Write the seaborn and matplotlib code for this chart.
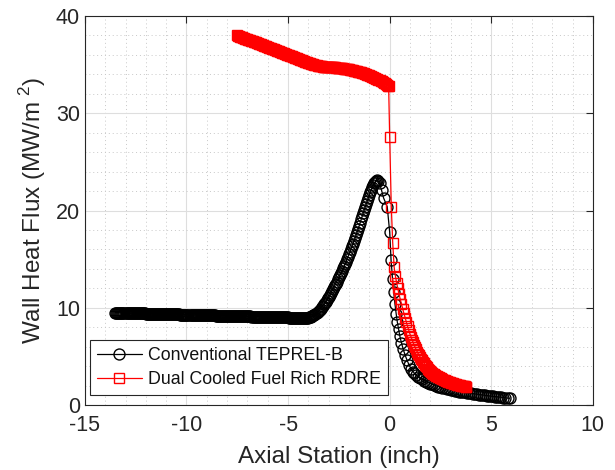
import matplotlib
matplotlib.use("Agg")
import matplotlib.pyplot as plt
import seaborn as sns
import pandas as pd
from matplotlib.ticker import MultipleLocator

# ---- data ----
conv_x = [
    -13.5, -13.45, -13.4, -13.35, -13.3, -13.25, -13.2, -13.15, -13.1, -13.05,
    -13.0, -12.95, -12.9, -12.85, -12.8, -12.75, -12.7, -12.65, -12.6, -12.55,
    -12.5, -12.45, -12.4, -12.35, -12.3, -12.25, -12.2, -12.15, -12.1, -12.05,
    -12.0, -11.95, -11.9, -11.85, -11.8, -11.75, -11.7, -11.65, -11.6, -11.55,
    -11.5, -11.45, -11.4, -11.35, -11.3, -11.25, -11.2, -11.15, -11.1, -11.05,
    -11.0, -10.95, -10.9, -10.85, -10.8, -10.75, -10.7, -10.65, -10.6, -10.55,
    -10.5, -10.45, -10.4, -10.35, -10.3, -10.25, -10.2, -10.15, -10.1, -10.05,
    -10.0, -9.95, -9.9, -9.85, -9.8, -9.75, -9.7, -9.65, -9.6, -9.55,
    -9.5, -9.45, -9.4, -9.35, -9.3, -9.25, -9.2, -9.15, -9.1, -9.05,
    -9.0, -8.95, -8.9, -8.85, -8.8, -8.75, -8.7, -8.65, -8.6, -8.55,
    -8.5, -8.45, -8.4, -8.35, -8.3, -8.25, -8.2, -8.15, -8.1, -8.05,
    -8.0, -7.95, -7.9, -7.85, -7.8, -7.75, -7.7, -7.65, -7.6, -7.55,
    -7.5, -7.45, -7.4, -7.35, -7.3, -7.25, -7.2, -7.15, -7.1, -7.05,
    -7.0, -6.95, -6.9, -6.85, -6.8, -6.75, -6.7, -6.65, -6.6, -6.55,
    -6.5, -6.45, -6.4, -6.35, -6.3, -6.25, -6.2, -6.15, -6.1, -6.05,
    -6.0, -5.95, -5.9, -5.85, -5.8, -5.75, -5.7, -5.65, -5.6, -5.55,
    -5.5, -5.45, -5.4, -5.35, -5.3, -5.25, -5.2, -5.15, -5.1, -5.05,
    -5.0, -4.95, -4.9, -4.85, -4.8, -4.75, -4.7, -4.65, -4.6, -4.55,
    -4.5, -4.45, -4.4, -4.35, -4.3, -4.25, -4.2, -4.15, -4.1, -4.05,
    -4.0, -3.95, -3.9, -3.85, -3.8, -3.75, -3.7, -3.65, -3.6, -3.55,
    -3.5, -3.45, -3.4, -3.35, -3.3, -3.25, -3.2, -3.15, -3.1, -3.05,
    -3.0, -2.95, -2.9, -2.85, -2.8, -2.75, -2.7, -2.65, -2.6, -2.55,
    -2.5, -2.45, -2.4, -2.35, -2.3, -2.25, -2.2, -2.15, -2.1, -2.05,
    -2.0, -1.95, -1.9, -1.85, -1.8, -1.75, -1.7, -1.65, -1.6, -1.55,
    -1.5, -1.45, -1.4, -1.35, -1.3, -1.25, -1.2, -1.15, -1.1, -1.05,
    -1.0, -0.95, -0.9, -0.85, -0.8, -0.75, -0.7, -0.65, -0.6, -0.55,
    -0.5, -0.4, -0.3, -0.12, 0.0, 0.07, 0.14, 0.2, 0.26, 0.32, 0.38,
    0.44, 0.5, 0.58, 0.66, 0.75, 0.85, 0.95, 1.05, 1.15, 1.22,
    1.3, 1.4, 1.5, 1.6, 1.7, 1.8, 1.9, 2.0, 2.1, 2.2,
    2.3, 2.4, 2.5, 2.6, 2.7, 2.8, 2.9, 3.0, 3.1, 3.2,
    3.3, 3.4, 3.5, 3.6, 3.7, 3.8, 3.9, 4.0, 4.1, 4.2,
    4.3, 4.4, 4.5, 4.6, 4.7, 4.8, 4.9, 5.0, 5.1, 5.2,
    5.3, 5.4, 5.5, 5.6, 5.7, 5.8, 5.9,
]
conv_y = [
    9.50, 9.50, 9.49, 9.49, 9.49, 9.49, 9.48, 9.48, 9.48, 9.47,
    9.47, 9.47, 9.47, 9.46, 9.46, 9.46, 9.45, 9.45, 9.45, 9.45,
    9.44, 9.44, 9.44, 9.43, 9.43, 9.43, 9.43, 9.42, 9.42, 9.42,
    9.41, 9.41, 9.41, 9.41, 9.40, 9.40, 9.40, 9.39, 9.39, 9.39,
    9.38, 9.38, 9.38, 9.38, 9.37, 9.37, 9.37, 9.36, 9.36, 9.36,
    9.36, 9.35, 9.35, 9.35, 9.34, 9.34, 9.34, 9.34, 9.33, 9.33,
    9.33, 9.32, 9.32, 9.32, 9.31, 9.31, 9.31, 9.31, 9.30, 9.30,
    9.30, 9.29, 9.29, 9.29, 9.29, 9.28, 9.28, 9.28, 9.27, 9.27,
    9.27, 9.27, 9.26, 9.26, 9.26, 9.25, 9.25, 9.25, 9.25, 9.24,
    9.24, 9.24, 9.23, 9.23, 9.23, 9.23, 9.22, 9.22, 9.22, 9.21,
    9.21, 9.21, 9.21, 9.20, 9.20, 9.20, 9.19, 9.19, 9.19, 9.19,
    9.18, 9.18, 9.18, 9.17, 9.17, 9.17, 9.17, 9.16, 9.16, 9.16,
    9.15, 9.15, 9.15, 9.14, 9.14, 9.14, 9.14, 9.13, 9.13, 9.13,
    9.12, 9.12, 9.12, 9.12, 9.11, 9.11, 9.11, 9.10, 9.10, 9.10,
    9.09, 9.09, 9.09, 9.09, 9.08, 9.08, 9.08, 9.07, 9.07, 9.07,
    9.07, 9.06, 9.06, 9.06, 9.05, 9.05, 9.05, 9.05, 9.04, 9.04,
    9.04, 9.03, 9.03, 9.03, 9.02, 9.02, 9.02, 9.02, 9.01, 9.01,
    9.01, 9.00, 9.00, 9.00, 9.00, 8.99, 8.99, 8.99, 8.98, 8.98,
    8.98, 8.98, 8.97, 8.97, 8.97, 8.97, 8.96, 8.96, 8.97, 8.98,
    9.0, 9.02, 9.05, 9.1, 9.15, 9.22, 9.3, 9.37, 9.45, 9.55,
    9.65, 9.77, 9.9, 10.05, 10.2, 10.35, 10.5, 10.65, 10.8, 10.97,
    11.15, 11.32, 11.5, 11.7, 11.9, 12.1, 12.3, 12.5, 12.7, 12.92,
    13.15, 13.37, 13.6, 13.82, 14.05, 14.27, 14.5, 14.75, 15.0, 15.25,
    15.5, 15.77, 16.05, 16.32, 16.6, 16.9, 17.2, 17.5, 17.8, 18.12,
    18.45, 18.77, 19.1, 19.42, 19.75, 20.07, 20.4, 20.7, 21.0, 21.3,
    21.6, 21.88, 22.15, 22.4, 22.6, 22.8, 22.95, 23.05, 23.1, 23.0,
    22.8, 22.1, 21.3, 20.4, 17.8, 14.9, 13.0, 11.6, 10.4, 9.4, 8.5,
    7.8, 7.1, 6.4, 5.8, 5.2, 4.65, 4.15, 3.75, 3.45, 3.27,
    3.1, 2.93, 2.78, 2.65, 2.53, 2.42, 2.32, 2.22, 2.13, 2.05,
    1.98, 1.91, 1.84, 1.78, 1.72, 1.67, 1.62, 1.57, 1.52, 1.48,
    1.44, 1.40, 1.36, 1.33, 1.30, 1.27, 1.24, 1.21, 1.18, 1.15,
    1.12, 1.09, 1.06, 1.03, 1.00, 0.97, 0.94, 0.92, 0.90, 0.88,
    0.86, 0.84, 0.81, 0.78, 0.75, 0.72, 0.70,
]

rdre_x = [
    -7.5, -7.45, -7.4, -7.35, -7.3, -7.25, -7.2, -7.15, -7.1, -7.05,
    -7.0, -6.95, -6.9, -6.85, -6.8, -6.75, -6.7, -6.65, -6.6, -6.55,
    -6.5, -6.45, -6.4, -6.35, -6.3, -6.25, -6.2, -6.15, -6.1, -6.05,
    -6.0, -5.95, -5.9, -5.85, -5.8, -5.75, -5.7, -5.65, -5.6, -5.55,
    -5.5, -5.45, -5.4, -5.35, -5.3, -5.25, -5.2, -5.15, -5.1, -5.05,
    -5.0, -4.95, -4.9, -4.85, -4.8, -4.75, -4.7, -4.65, -4.6, -4.55,
    -4.5, -4.45, -4.4, -4.35, -4.3, -4.25, -4.2, -4.15, -4.1, -4.05,
    -4.0, -3.95, -3.9, -3.85, -3.8, -3.75, -3.7, -3.65, -3.6, -3.55,
    -3.5, -3.45, -3.4, -3.35, -3.3, -3.25, -3.2, -3.15, -3.1, -3.05,
    -3.0, -2.95, -2.9, -2.85, -2.8, -2.75, -2.7, -2.65, -2.6, -2.55,
    -2.5, -2.45, -2.4, -2.35, -2.3, -2.25, -2.2, -2.15, -2.1, -2.05,
    -2.0, -1.95, -1.9, -1.85, -1.8, -1.75, -1.7, -1.65, -1.6, -1.55,
    -1.5, -1.45, -1.4, -1.35, -1.3, -1.25, -1.2, -1.15, -1.1, -1.05,
    -1.0, -0.95, -0.9, -0.85, -0.8, -0.75, -0.7, -0.65, -0.6, -0.55,
    -0.5, -0.45, -0.4, -0.35, -0.3, -0.25, -0.2, -0.15, -0.1, -0.05,
    0.0, 0.08, 0.15, 0.22, 0.28, 0.34, 0.4, 0.46, 0.52, 0.58,
    0.64, 0.7, 0.76, 0.82, 0.88, 0.94,
    1.0, 1.05, 1.1, 1.15, 1.2, 1.25, 1.3, 1.35, 1.4, 1.45,
    1.5, 1.55, 1.6, 1.65, 1.7, 1.75, 1.8, 1.85, 1.9, 1.95,
    2.0, 2.05, 2.1, 2.15, 2.2, 2.25, 2.3, 2.35, 2.4, 2.45,
    2.5, 2.55, 2.6, 2.65, 2.7, 2.75, 2.8, 2.85, 2.9, 2.95,
    3.0, 3.05, 3.1, 3.15, 3.2, 3.25, 3.3, 3.35, 3.4, 3.45,
    3.5, 3.55, 3.6, 3.65, 3.7, 3.75, 3.78,
]
rdre_y = [
    38.00, 37.96, 37.92, 37.88, 37.84, 37.80, 37.76, 37.72, 37.68, 37.64,
    37.60, 37.56, 37.52, 37.48, 37.44, 37.40, 37.36, 37.32, 37.28, 37.24,
    37.20, 37.16, 37.12, 37.08, 37.04, 37.00, 36.96, 36.92, 36.88, 36.84,
    36.80, 36.76, 36.72, 36.68, 36.64, 36.60, 36.56, 36.52, 36.48, 36.44,
    36.40, 36.36, 36.32, 36.28, 36.24, 36.20, 36.16, 36.12, 36.08, 36.04,
    36.00, 35.96, 35.92, 35.88, 35.84, 35.80, 35.76, 35.72, 35.68, 35.64,
    35.60, 35.56, 35.52, 35.48, 35.44, 35.40, 35.36, 35.32, 35.28, 35.24,
    35.20, 35.16, 35.12, 35.08, 35.05, 35.02, 34.98, 34.95, 34.92, 34.90,
    34.87, 34.85, 34.83, 34.81, 34.80, 34.79, 34.78, 34.77, 34.76, 34.755,
    34.75, 34.745, 34.74, 34.735, 34.73, 34.72, 34.71, 34.70, 34.69, 34.68,
    34.67, 34.655, 34.64, 34.625, 34.61, 34.595, 34.58, 34.565, 34.55, 34.53,
    34.51, 34.49, 34.47, 34.445, 34.42, 34.395, 34.37, 34.345, 34.32, 34.29,
    34.26, 34.23, 34.20, 34.165, 34.13, 34.095, 34.06, 34.02, 33.98, 33.94,
    33.90, 33.855, 33.81, 33.765, 33.72, 33.67, 33.62, 33.565, 33.51, 33.455,
    33.40, 33.34, 33.28, 33.215, 33.15, 33.075, 33.00, 32.925, 32.85, 32.78,
    27.6, 20.4, 16.7, 14.2, 13.3, 12.6, 12.0, 11.4, 10.9, 10.4,
    9.9, 9.45, 9.0, 8.55, 8.1, 7.7,
    7.3, 7.02, 6.74, 6.47, 6.2, 5.95, 5.72, 5.5, 5.3, 5.12,
    4.95, 4.77, 4.6, 4.45, 4.3, 4.15, 4.0, 3.87, 3.75, 3.63,
    3.52, 3.42, 3.33, 3.25, 3.17, 3.1, 3.03, 2.97, 2.91, 2.85,
    2.8, 2.74, 2.68, 2.62, 2.57, 2.52, 2.47, 2.42, 2.38, 2.34,
    2.3, 2.26, 2.23, 2.2, 2.17, 2.14, 2.11, 2.08, 2.06, 2.03,
    2.01, 1.99, 1.97, 1.95, 1.93, 1.91, 1.9,
]

series_names = ["Conventional TEPREL-B", "Dual Cooled Fuel Rich RDRE"]
x_ticks = [-15, -10, -5, 0, 5, 10]
y_ticks = [0, 10, 20, 30, 40]

# ---- plot ----
sns.set_theme(style="white")
plt.rcParams["font.family"] = ["Liberation Sans", "DejaVu Sans"]
plt.rcParams["mathtext.fontset"] = "custom"
plt.rcParams["mathtext.rm"] = "Liberation Sans"
plt.rcParams["axes.unicode_minus"] = False

fig = plt.figure(figsize=(6.15, 4.7), dpi=100)
ax = fig.add_axes([0.138, 0.138, 0.826, 0.828])

df1 = pd.DataFrame({"x": conv_x, "y": conv_y})
df2 = pd.DataFrame({"x": rdre_x, "y": rdre_y})

sns.lineplot(data=df1, x="x", y="y", ax=ax, sort=False, estimator=None,
             color="black", linewidth=0.9, marker="o", markersize=7.9,
             markerfacecolor="none", markeredgecolor="black",
             markeredgewidth=1.0, label=series_names[0])
sns.lineplot(data=df2, x="x", y="y", ax=ax, sort=False, estimator=None,
             color="red", linewidth=0.9, marker="s", markersize=7.4,
             markerfacecolor="none", markeredgecolor="red",
             markeredgewidth=1.0, label=series_names[1])

ax.set_xlim(-15, 10)
ax.set_ylim(0, 40)
ax.set_xticks(x_ticks)
ax.set_yticks(y_ticks)
ax.xaxis.set_minor_locator(MultipleLocator(1))
ax.yaxis.set_minor_locator(MultipleLocator(2))

ax.grid(which="major", color="#dedede", linewidth=0.8, linestyle="-")
ax.grid(which="minor", color="#c8c8c8", linewidth=0.7, linestyle=(0, (1, 3)))
ax.set_axisbelow(True)

for s in ax.spines.values():
    s.set_visible(True)
    s.set_color("#262626")
    s.set_linewidth(0.8)

ax.tick_params(which="both", direction="in", top=True, right=True,
               colors="#262626", labelsize=15.5)
ax.tick_params(which="major", length=5, width=0.8)
ax.tick_params(which="minor", length=0)
ax.tick_params(axis="x", pad=7)

ax.set_xlabel("Axial Station (inch)", fontsize=17.5, color="#262626", labelpad=7)
ax.set_ylabel("Wall Heat Flux (MW/m$^{\\ 2}$)", fontsize=17.5, color="#262626", labelpad=6)

leg = ax.legend(loc="lower left", bbox_to_anchor=(0.01, 0.026), fontsize=12.8,
                frameon=True, fancybox=False, edgecolor="#262626",
                framealpha=1, borderpad=0.4, handlelength=2.5,
                handletextpad=0.35, labelspacing=0.4, borderaxespad=0)
leg.get_frame().set_linewidth(0.8)
for t in leg.get_texts():
    t.set_color("#111111")

fig.savefig("out.png", dpi=100)
